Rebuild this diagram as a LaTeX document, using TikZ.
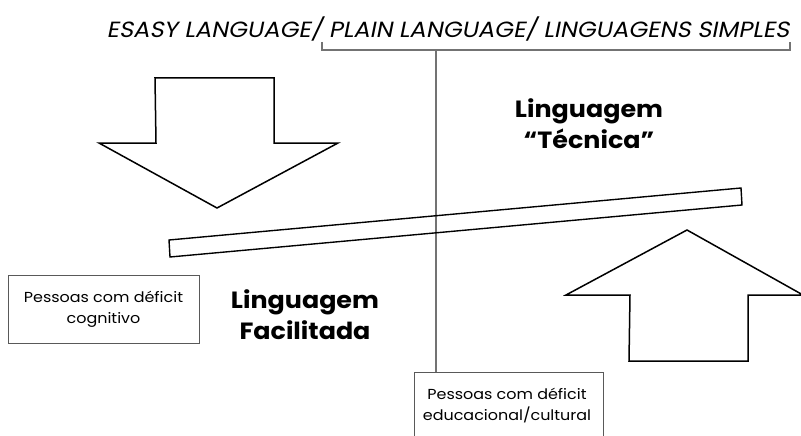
\documentclass[tikz,border=0pt]{standalone}
\usepackage{fontspec}
\setmainfont{Poppins}
\newfontfamily\titlefont{Poppins}[FakeSlant=0.2,FakeStretch=1.1]
\newfontfamily\smallfont{Poppins}[FakeStretch=1.1]
\newfontfamily\bigfont{Poppins}[FakeStretch=1.08]
\begin{document}
\begin{tikzpicture}[x=1pt,y=-1pt,
  arrowshape/.style={draw=black,line width=1.5pt,line join=miter},
  plank/.style={draw=black,line width=1.4pt},
  guide/.style={draw=black!55,line width=1.2pt},
  boxtext/.style={align=center,font=\smallfont\fontsize{14.5}{21}\selectfont},
  infobox/.style={boxtext,draw=black!65,line width=0.9pt},
  biglabel/.style={align=center,font=\bigfont\fontsize{23.5}{31}\selectfont\bfseries},
  titlestyle/.style={font=\titlefont\fontsize{22}{24}\selectfont}]
\useasboundingbox (0,0) rectangle (801,436);
\clip (0,0) rectangle (801,436);
% title and bracket
\node[titlestyle] (title) at (448,29) {ESASY LANGUAGE/ PLAIN LANGUAGE/ LINGUAGENS SIMPLES};
\coordinate (bl) at (322,42);
\coordinate (br) at (790,42);
\coordinate (bm) at (436,50);
\draw[guide] (bl) -- (322,50) -- (790,50) -- (br);
% bottom box
\draw[draw=black!65,line width=0.9pt] (414,445) -- (414,372) -- (603,372) -- (603,445);
\coordinate (boxtop) at (436,372);
\node[boxtext] (educ) at (507,406) {Pessoas com déficit\\educacional/cultural};
\draw[guide] (bm) -- (boxtop);
% plank
\draw[plank] (169,240) -- (741,188) -- (742,205) -- (170,257) -- cycle;
% down arrow
\draw[arrowshape] (155,78) -- (274,78) -- (274,143) -- (338,143) -- (217,208) -- (99,143) -- (156,143) -- cycle;
% up arrow
\draw[arrowshape] (629,361) -- (748,361) -- (748,295) -- (803,295) -- (687,230) -- (566,295) -- (630,295) -- cycle;
% labels
\node[biglabel] (tec) at (589,124) {Linguagem\\“Técnica”};
\node[biglabel] (fac) at (305,315) {Linguagem\\Facilitada};
\node[infobox,minimum width=191pt,minimum height=68pt] (cog) at (103.5,309) {Pessoas com déficit\\cognitivo};
\end{tikzpicture}
\end{document}
